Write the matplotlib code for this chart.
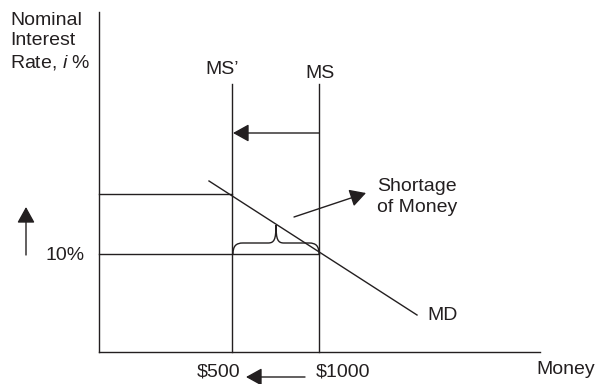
import matplotlib
matplotlib.use("Agg")
import matplotlib.pyplot as plt
from matplotlib.path import Path
from matplotlib.patches import PathPatch

plt.rcParams['font.family'] = ['Liberation Sans', 'DejaVu Sans']
plt.rcParams['mathtext.fontset'] = 'custom'
plt.rcParams['mathtext.it'] = 'Liberation Sans:italic'
plt.rcParams['mathtext.rm'] = 'Liberation Sans'

# Diagram coordinates (horizontal: money position, vertical: rate position, screen units)
axis_origin = (99, 352)
axis_top = 12
axis_right = 540
money_values = ["$500", "$1000"]
money_pos = [232, 319]           # MS' and MS
supply_labels = ["MS\u2019", "MS"]
supply_top = 84
rate_high = 194                 # rate level where MD meets MS'
rate_eq = 254                   # 10%
rate_label = "10%"
md_x = [209, 417]
md_y = [181, 315]

ink = "#231f20"
lw = 1.0
fs = 14

fig = plt.figure(figsize=(5.97, 3.84), dpi=100)
ax = fig.add_axes([0, 0, 1, 1])
ax.set_xlim(0, 597)
ax.set_ylim(384, 0)
ax.axis('off')

# axes
ax.plot([axis_origin[0], axis_origin[0]], [axis_top, axis_origin[1]], color=ink, lw=lw)
ax.plot([axis_origin[0], axis_right], [axis_origin[1], axis_origin[1]], color=ink, lw=lw)

# supply curves
for xp in money_pos:
    ax.plot([xp, xp], [supply_top, axis_origin[1]], color=ink, lw=lw)

# horizontal guides
ax.plot([axis_origin[0], money_pos[0]], [rate_high, rate_high], color=ink, lw=lw)
ax.plot([axis_origin[0], money_pos[1]], [rate_eq, rate_eq], color=ink, lw=lw)

# demand curve
ax.plot(md_x, md_y, color=ink, lw=lw)

arrow_style = dict(arrowstyle='-|>,head_length=0.65,head_width=0.36', color=ink,
                   lw=lw, mutation_scale=15, shrinkA=0, shrinkB=0)

# shift arrow MS -> MS'
ax.annotate("", xy=(money_pos[0] + 1, 133), xytext=(money_pos[1], 133), arrowprops=arrow_style)
# bottom arrow
ax.annotate("", xy=(246, 377), xytext=(305, 377), arrowprops=arrow_style)
# up arrow
ax.annotate("", xy=(26, 207), xytext=(26, 255), arrowprops=arrow_style)
# shortage arrow
ax.annotate("", xy=(366, 193), xytext=(294, 217), arrowprops=arrow_style)

# brace
verts = [(233, 254), (233, 246), (236, 243), (243, 243),
         (268, 243),
         (274, 243), (276, 240), (276, 225),
         (276, 240), (278, 243), (284, 243),
         (309, 243),
         (316, 243), (319, 246), (319, 254)]
codes = [Path.MOVETO, Path.CURVE4, Path.CURVE4, Path.CURVE4,
         Path.LINETO,
         Path.CURVE4, Path.CURVE4, Path.CURVE4,
         Path.CURVE4, Path.CURVE4, Path.CURVE4,
         Path.LINETO,
         Path.CURVE4, Path.CURVE4, Path.CURVE4]
ax.add_patch(PathPatch(Path(verts, codes), fill=False, edgecolor=ink, lw=lw))

# texts
ax.text(10, 42, "Nominal\nInterest\nRate, $i$ %", fontsize=fs, color=ink,
        ha='left', va='center', linespacing=1.25)
ax.text(222, 70, supply_labels[0], fontsize=fs, color=ink, ha='center', va='center')
ax.text(320, 73, supply_labels[1], fontsize=fs, color=ink, ha='center', va='center')
ax.text(85, 256, rate_label, fontsize=fs, color=ink, ha='right', va='center')
ax.text(377, 197, "Shortage\nof Money", fontsize=fs, color=ink, ha='left', va='center',
        linespacing=1.25)
ax.text(427, 316, "MD", fontsize=fs, color=ink, ha='left', va='center')
ax.text(240, 372, money_values[0], fontsize=fs, color=ink, ha='right', va='center')
ax.text(316, 372, money_values[1], fontsize=fs, color=ink, ha='left', va='center')
ax.text(536, 370, "Money", fontsize=fs, color=ink, ha='left', va='center')

fig.savefig("out.png", dpi=100)
